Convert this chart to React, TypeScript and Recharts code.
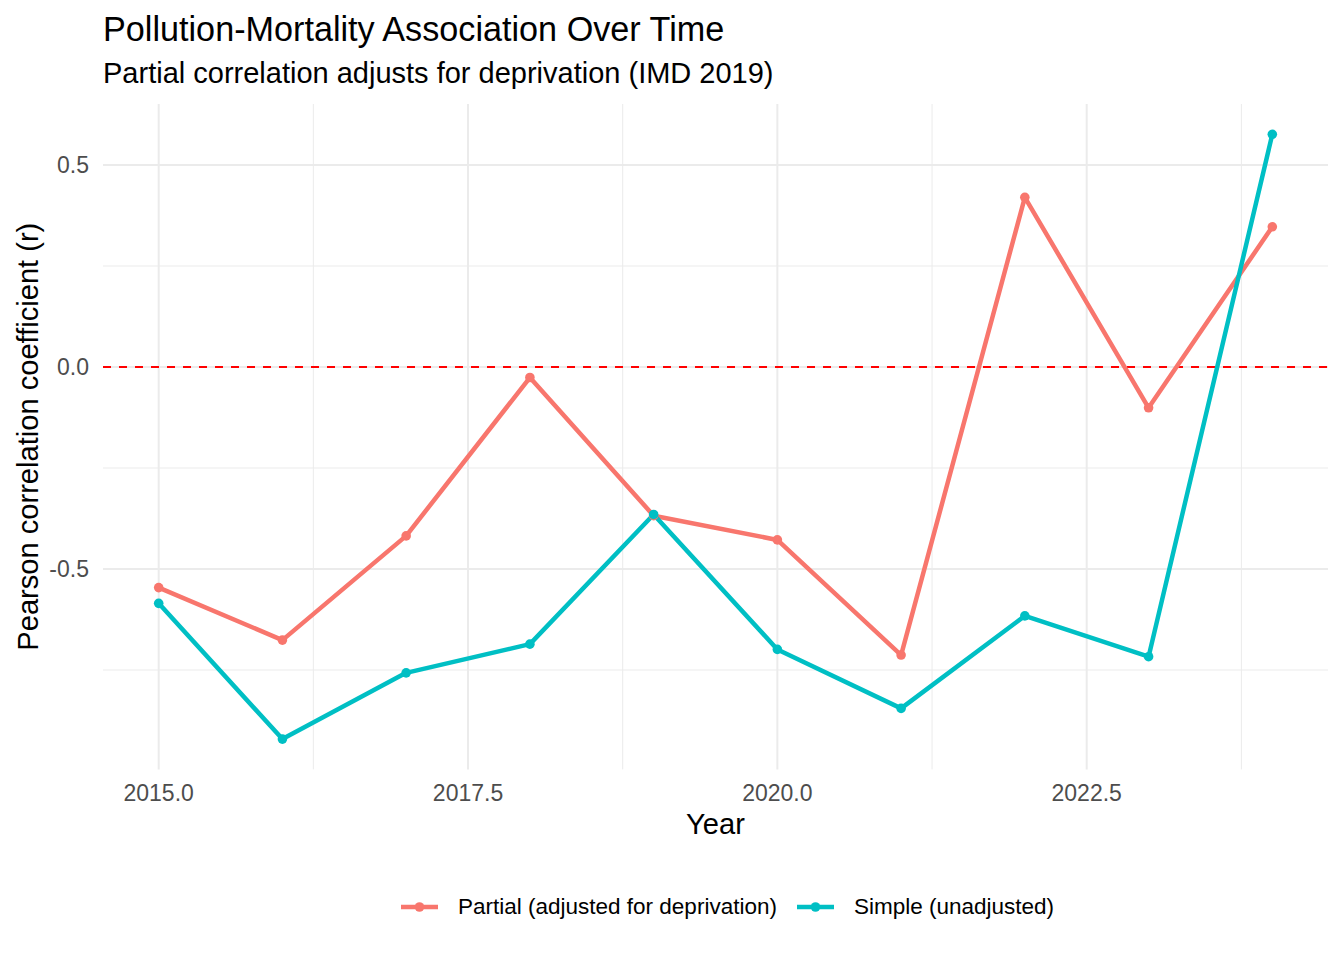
import React from 'react';
import { LineChart, Line, XAxis, YAxis, CartesianGrid, ReferenceLine, Legend } from 'recharts';

const FONT = '"Liberation Sans", Arial, Helvetica, sans-serif';

const years = [2015, 2016, 2017, 2018, 2019, 2020, 2021, 2022, 2023, 2024];
const partialR = [-0.546, -0.676, -0.418, -0.026, -0.368, -0.428, -0.713, 0.42, -0.101, 0.347];
const simpleR = [-0.585, -0.921, -0.757, -0.686, -0.365, -0.699, -0.845, -0.616, -0.717, 0.576];

const xTicks = [2015, 2017.5, 2020, 2022.5];
const yTicks = [-0.5, 0, 0.5];
const xMinor = [2016.25, 2018.75, 2021.25, 2023.75];
const yMinor = [-0.75, -0.25, 0.25];

const seriesKeys = ['partial', 'simple'];
const seriesNames = ['Partial (adjusted for deprivation)', 'Simple (unadjusted)'];
const seriesColors = ['#F8766D', '#00BFC4'];

const titleText = 'Pollution-Mortality Association Over Time';
const subtitleText = 'Partial correlation adjusts for deprivation (IMD 2019)';
const xTitle = 'Year';
const yTitle = 'Pearson correlation coefficient (r)';

const rows = years.map((year, i) => ({ year, partial: partialR[i], simple: simpleR[i] }));

const legendLefts = [401, 797];

function scaleOf(axis: any) {
  if (!axis) return null;
  const s = axis.scale;
  if (typeof s === 'function') return s;
  if (s && typeof s.map === 'function') return (v: number) => s.map(v);
  return null;
}

function hGen(props: any) {
  const s = scaleOf(props && props.yAxis);
  if (!s) return [];
  return yTicks.map((v) => s(v));
}

function vGen(props: any) {
  const s = scaleOf(props && props.xAxis);
  if (!s) return [];
  return xTicks.map((v) => s(v));
}

function YLabel(props: any) {
  const vb = props.viewBox || { x: 0, y: 104, width: 103, height: 665 };
  const cx = 38;
  const cy = vb.y + vb.height / 2;
  return (
    <text
      x={cx}
      y={cy}
      transform={`rotate(-90, ${cx}, ${cy})`}
      textAnchor="middle"
      fill="#000000"
      fontSize={29.1}
      fontFamily={FONT}
    >
      {yTitle}
    </text>
  );
}

function LegendContent(props: any) {
  const payload = (props.payload && props.payload.length ? props.payload : seriesNames.map((n, i) => ({ value: n, color: seriesColors[i] })));
  return (
    <div style={{ position: 'relative', width: 1344, height: 40, fontFamily: FONT }}>
      {payload.map((p: any, i: number) => (
        <div
          key={p.value}
          style={{
            position: 'absolute',
            left: legendLefts[i] ?? 401 + i * 396,
            top: 0,
            height: 40,
            display: 'flex',
            alignItems: 'center',
            whiteSpace: 'nowrap',
          }}
        >
          <svg width={37} height={20} style={{ display: 'block' }}>
            <line x1={0} y1={10} x2={37} y2={10} stroke={p.color} strokeWidth={4.5} />
            <circle cx={18.5} cy={10} r={4.8} fill={p.color} />
          </svg>
          <span style={{ marginLeft: 20, fontSize: 22.5, color: '#000000', lineHeight: '40px' }}>{p.value}</span>
        </div>
      ))}
    </div>
  );
}

export default function App() {
  return (
    <div
      style={{
        position: 'absolute',
        left: 0,
        top: 0,
        width: 1344,
        height: 960,
        background: '#ffffff',
        fontFamily: FONT,
      }}
    >
      <svg
        width={1344}
        height={100}
        style={{ position: 'absolute', left: 0, top: 0, pointerEvents: 'none', zIndex: 2 }}
      >
        <text x={103} y={41} fontSize={34.2} fill="#000000" fontFamily={FONT}>
          {titleText}
        </text>
        <text x={103} y={83} fontSize={29.0} fill="#000000" fontFamily={FONT}>
          {subtitleText}
        </text>
      </svg>
      <LineChart
        width={1344}
        height={960}
        data={rows}
        margin={{ top: 104, right: 16, bottom: 85.6, left: 0 }}
        style={{ fontFamily: FONT }}
      >
        <CartesianGrid
          stroke="#EBEBEB"
          strokeWidth={2}
          horizontalCoordinatesGenerator={hGen}
          verticalCoordinatesGenerator={vGen}
        />
        {xMinor.map((v) => (
          <ReferenceLine key={`xm${v}`} x={v} stroke="#EBEBEB" strokeWidth={1} />
        ))}
        {yMinor.map((v) => (
          <ReferenceLine key={`ym${v}`} y={v} stroke="#EBEBEB" strokeWidth={1} />
        ))}
        <ReferenceLine y={0} stroke="#FF0000" strokeWidth={2} strokeDasharray="8 8" />
        <XAxis
          dataKey="year"
          type="number"
          domain={[2014.55, 2024.45]}
          ticks={xTicks}
          interval={0}
          allowDataOverflow
          tickFormatter={(v: number) => v.toFixed(1)}
          axisLine={false}
          tickLine={false}
          tickSize={6}
          tickMargin={9}
          height={65}
          tick={{ fill: '#4D4D4D', fontSize: 23, fontFamily: FONT }}
          label={{ value: xTitle, position: 'insideBottom', offset: 0, fill: '#000000', fontSize: 29.1, fontFamily: FONT }}
        />
        <YAxis
          type="number"
          domain={[-0.996, 0.651]}
          ticks={yTicks}
          interval={0}
          allowDataOverflow
          tickFormatter={(v: number) => v.toFixed(1)}
          axisLine={false}
          tickLine={false}
          tickSize={6}
          tickMargin={8}
          width={103}
          tick={{ fill: '#4D4D4D', fontSize: 23, fontFamily: FONT }}
          label={<YLabel />}
        />
        <Legend
          verticalAlign="bottom"
          height={40}
          wrapperStyle={{ position: 'absolute', top: 887, left: 0, width: 1344, height: 40 }}
          content={<LegendContent />}
        />
        {seriesKeys.map((k, i) => (
          <Line
            key={k}
            type="linear"
            dataKey={k}
            name={seriesNames[i]}
            stroke={seriesColors[i]}
            strokeWidth={4.5}
            strokeLinejoin="round"
            dot={{ r: 4.8, fill: seriesColors[i], stroke: seriesColors[i], strokeWidth: 0 }}
            activeDot={false}
            isAnimationActive={false}
            legendType="line"
          />
        ))}
      </LineChart>
    </div>
  );
}
